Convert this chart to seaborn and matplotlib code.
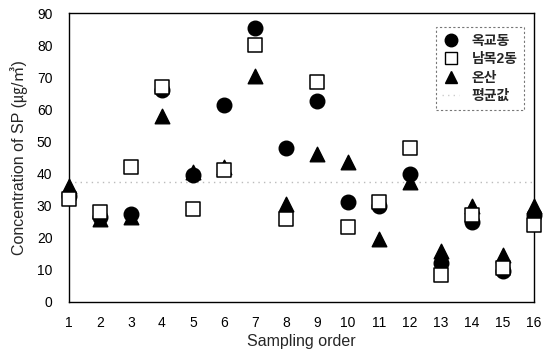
import numpy as np
import pandas as pd
import matplotlib
matplotlib.use("Agg")
import matplotlib.pyplot as plt
import seaborn as sns
from matplotlib.lines import Line2D

order = list(range(1, 17))
okgyo = [33, 26.5, 27.5, 66, 39.5, 61.5, 85.5, 48, 62.5, 31, 30, 40, 12, 25, 9.5, 27]
nammok = [32, 28, 42, 67, 29, 41, 80, 26, 68.5, 23.5, 31, 48, 8.5, 27, 10.5, 24]
onsan = [36, 26, 26.5, 58, 40.5, 42, 70.5, 30.5, 46, 43.5, 19.5, 37.5, 16, 30, 14.5, 30]
mean_value = 37.5
labels = ["옥교동", "남목2동", "온산", "평균값"]
yticks = list(range(0, 91, 10))

sns.set_theme(style="white")
plt.rcParams['font.family'] = ['Liberation Sans', 'Noto Sans CJK KR', 'DejaVu Sans']

fig = plt.figure(figsize=(5.48, 3.53), dpi=100)
ax = fig.add_axes([0.126, 0.1445, 0.848, 0.8185])

df = pd.DataFrame({"order": order, "okgyo": okgyo, "nammok": nammok, "onsan": onsan})

ax.axhline(mean_value, color="#bbbbbb", lw=1.0, ls=(0, (1, 3)), zorder=1)

sns.scatterplot(data=df, x="order", y="okgyo", ax=ax, marker="o", s=110,
                color="black", edgecolor="black", linewidth=1, clip_on=False, zorder=3)
sns.scatterplot(data=df, x="order", y="onsan", ax=ax, marker="^", s=110,
                color="black", edgecolor="black", linewidth=1, clip_on=False, zorder=4)
sns.scatterplot(data=df, x="order", y="nammok", ax=ax, marker="s", s=95,
                color="white", edgecolor="black", linewidth=1.1, clip_on=False, zorder=5)

ax.set_xlim(1, 16)
ax.set_ylim(0, 90)
ax.set_xticks(order)
ax.set_xticklabels([str(i) for i in order])
ax.set_yticks(yticks)
ax.tick_params(axis="both", labelsize=10, colors="black", length=2, width=0.8,
               direction="in")
ax.tick_params(axis="x", pad=10)
ax.tick_params(axis="y", pad=12)
for sp in ax.spines.values():
    sp.set_color("black")
    sp.set_linewidth(1.0)

ax.set_xlabel("Sampling order", fontsize=11.5, labelpad=3)
ax.set_ylabel("Concentration of SP (㎍/㎥)", fontsize=11.5, labelpad=6)

handles = [
    Line2D([], [], marker="o", ls="none", color="black", markersize=9),
    Line2D([], [], marker="s", ls="none", markerfacecolor="white",
           markeredgecolor="black", markersize=8.5),
    Line2D([], [], marker="^", ls="none", color="black", markersize=9),
    Line2D([], [], ls=(0, (1, 3)), color="#cccccc", lw=1),
]
leg = ax.legend(handles, labels, loc="upper right", bbox_to_anchor=(0.995, 0.975),
                frameon=True, fancybox=False, prop={"size": 10, "weight": "bold"},
                handlelength=1.2, handletextpad=0.9, labelspacing=0.3, borderpad=0.5)
leg.get_frame().set_edgecolor("#555555")
leg.get_frame().set_linestyle((0, (2, 2)))
leg.get_frame().set_linewidth(0.8)

fig.savefig("out.png", dpi=100)
